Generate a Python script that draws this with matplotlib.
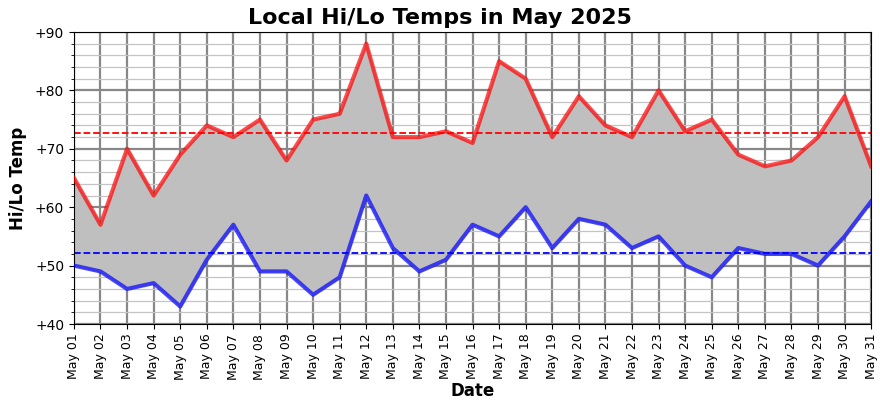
import numpy as np
import pandas as pd
import matplotlib
matplotlib.use("Agg")
import matplotlib.pyplot as plt
import matplotlib.dates as mdates
from matplotlib.ticker import MultipleLocator, FuncFormatter

### daily data, May 2025
dates = pd.date_range("2025-05-01", "2025-05-31", freq="D")
highs = [65, 57, 70, 62, 69, 74, 72, 75, 68, 75, 76, 88, 72, 72, 73, 71,
         85, 82, 72, 79, 74, 72, 80, 73, 75, 69, 67, 68, 72, 79, 67]
lows = [50, 49, 46, 47, 43, 51, 57, 49, 49, 45, 48, 62, 53, 49, 51, 57,
        55, 60, 53, 58, 57, 53, 55, 50, 48, 53, 52, 52, 50, 55, 61]

hi_mean = np.mean(highs)
lo_mean = np.mean(lows)

fig, ax = plt.subplots(figsize=(8.8, 4), dpi=100)
fig.subplots_adjust(left=0.084, right=0.99, top=0.92, bottom=0.19)

### shaded band between lows and highs
ax.fill_between(dates, lows, highs, color="#bfbfbf", zorder=1)
ax.plot(dates, highs, color="red", alpha=0.7, lw=3, zorder=3)
ax.plot(dates, lows, color="blue", alpha=0.7, lw=3, zorder=3)

### monthly means
ax.axhline(hi_mean, color="red", ls="--", lw=1.3, zorder=2)
ax.axhline(lo_mean, color="blue", ls="--", lw=1.3, zorder=2)

ax.set_xlim(dates[0], dates[-1])
ax.set_ylim(40, 90)

ax.xaxis.set_major_locator(mdates.DayLocator())
ax.xaxis.set_major_formatter(mdates.DateFormatter("%b %d"))
ax.yaxis.set_major_locator(MultipleLocator(10))
ax.yaxis.set_minor_locator(MultipleLocator(2))
ax.yaxis.set_major_formatter(FuncFormatter(lambda v, p: f"+{v:.0f}"))

ax.tick_params(axis="x", labelrotation=90, labelsize=9)
ax.tick_params(axis="y", labelsize=10)

ax.grid(which="major", color="#888888", lw=1.6, zorder=0)
ax.grid(which="minor", axis="y", color="#c4c4c4", lw=0.9, zorder=0)
ax.set_axisbelow(True)

fig.suptitle("Local Hi/Lo Temps in May 2025", fontsize=16, fontweight="bold", y=0.98)
ax.set_xlabel("Date", fontsize=12, fontweight="bold", labelpad=1.5)
ax.set_ylabel("Hi/Lo Temp", fontsize=12, fontweight="bold", labelpad=6)

fig.savefig("out.png")
